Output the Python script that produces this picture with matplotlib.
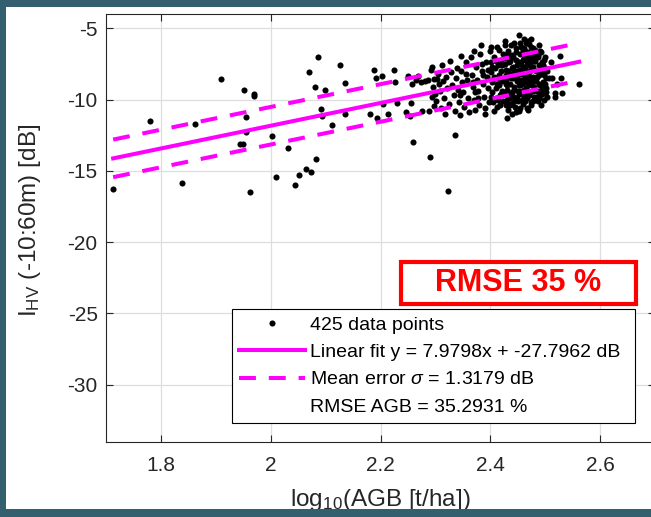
import numpy as np
import matplotlib
matplotlib.use("Agg")
from matplotlib import pyplot as plt
from matplotlib.patches import Rectangle

plt.rcParams['font.family'] = ['Liberation Sans', 'DejaVu Sans']
plt.rcParams['mathtext.fontset'] = 'custom'
plt.rcParams['mathtext.rm'] = 'Liberation Sans'
plt.rcParams['mathtext.it'] = 'Liberation Sans:italic'
plt.rcParams['axes.unicode_minus'] = False

# scattered points (log10 AGB, I_HV dB)
sparse_x = [1.713, 1.780, 1.838, 1.862, 1.909, 1.944, 1.950, 1.952, 1.955, 1.955,
            1.962, 1.970, 1.970, 2.002, 2.009, 2.031, 2.044, 2.051, 2.065, 2.073,
            2.069, 2.080, 2.083, 2.086, 2.092, 2.093, 2.098, 2.111, 2.127, 2.136,
            2.136, 2.181, 2.189, 2.191, 2.194, 2.203, 2.204, 2.213, 2.224, 2.227,
            2.230, 2.247, 2.250, 2.253, 2.256, 2.258, 2.260, 2.264, 2.268, 2.274,
            2.276, 2.281, 2.286, 2.288, 2.291, 2.293, 2.294, 2.298, 2.298, 2.303,
            2.323, 2.335, 2.347, 2.371, 2.383, 2.402, 2.427, 2.430, 2.453, 2.462,
            2.474, 2.489, 2.455, 2.507, 2.513, 2.529, 2.527, 2.510, 2.522, 2.518,
            2.531, 2.518, 2.562, 2.489, 2.486, 2.492]
sparse_y = [-16.29, -11.50, -15.87, -11.69, -8.56, -13.14, -13.14, -9.35, -11.24, -12.27,
            -16.50, -9.61, -9.75, -12.53, -15.41, -13.40, -15.99, -15.31, -14.85, -15.06,
            -8.05, -9.12, -14.15, -7.02, -10.64, -11.15, -9.35, -11.81, -7.60, -8.82,
            -10.99, -11.01, -7.91, -8.47, -11.31, -8.37, -10.31, -10.99, -7.91, -8.79,
            -10.26, -10.87, -8.37, -11.17, -10.26, -8.93, -13.00, -8.63, -8.33, -8.75,
            -10.82, -8.68, -8.63, -10.80, -14.05, -7.70, -9.84, -8.58, -10.45, -8.56,
            -16.39, -12.51, -6.95, -6.59, -6.17, -6.29, -5.89, -11.27, -5.45, -5.75,
            -5.75, -6.17, -10.57, -8.47, -8.47, -8.47, -6.92, -7.39, -8.93, -9.52,
            -9.51, -9.80, -8.89, -9.49, -9.80, -9.45]

# dense cluster, read column by column
cluster_x = [2.292, 2.296, 2.299, 2.301, 2.304, 2.306, 2.308, 2.310, 2.312, 2.314,
             2.316, 2.318, 2.320, 2.322, 2.324,
             2.327, 2.329, 2.331, 2.333, 2.335, 2.337, 2.339, 2.341, 2.343, 2.345,
             2.347, 2.349, 2.351, 2.353, 2.355, 2.357, 2.359, 2.361, 2.345, 2.356,
             2.364, 2.366, 2.368, 2.370, 2.372, 2.374, 2.376, 2.378, 2.380, 2.382,
             2.384, 2.386, 2.388, 2.390, 2.392, 2.394, 2.396, 2.397, 2.369, 2.377,
             2.385, 2.391, 2.373, 2.387, 2.395,
             2.400, 2.401, 2.402, 2.403, 2.404, 2.405, 2.406, 2.407, 2.408, 2.409,
             2.410, 2.411, 2.412, 2.413, 2.414, 2.415, 2.416, 2.417, 2.418, 2.419,
             2.420, 2.421, 2.422, 2.423, 2.424, 2.402, 2.406, 2.410, 2.414, 2.418,
             2.422, 2.404, 2.412, 2.420, 2.416,
             2.426, 2.427, 2.428, 2.429, 2.430, 2.431, 2.432, 2.433, 2.434, 2.435,
             2.436, 2.437, 2.438, 2.439, 2.440, 2.441, 2.442, 2.443, 2.444, 2.445,
             2.446, 2.447, 2.448, 2.449, 2.450, 2.451, 2.452, 2.427, 2.429, 2.431,
             2.433, 2.435, 2.437, 2.439, 2.441, 2.443, 2.445, 2.447, 2.449, 2.451,
             2.453, 2.428, 2.432, 2.436, 2.440, 2.444, 2.448, 2.452, 2.430, 2.438,
             2.446, 2.434, 2.442, 2.450, 2.426, 2.437, 2.444, 2.452, 2.429, 2.441,
             2.454, 2.455, 2.456, 2.457, 2.458, 2.459, 2.460, 2.461, 2.462, 2.463,
             2.464, 2.465, 2.466, 2.467, 2.468, 2.469, 2.470, 2.471, 2.472, 2.473,
             2.474, 2.475, 2.476, 2.477, 2.478, 2.479, 2.480, 2.455, 2.457, 2.459,
             2.461, 2.463, 2.465, 2.467, 2.469, 2.471, 2.473, 2.475, 2.477, 2.479,
             2.454, 2.456, 2.458, 2.460, 2.462, 2.464, 2.466, 2.468, 2.470, 2.472,
             2.474, 2.476, 2.478, 2.480, 2.457, 2.463, 2.469, 2.475, 2.459, 2.465,
             2.471, 2.477, 2.462, 2.468, 2.474, 2.466, 2.470, 2.458, 2.476, 2.464,
             2.481, 2.482, 2.483, 2.484, 2.485, 2.486, 2.487, 2.488, 2.489, 2.490,
             2.491, 2.492, 2.493, 2.494, 2.495, 2.496, 2.497, 2.498, 2.499, 2.500,
             2.501, 2.502, 2.503, 2.483, 2.486, 2.489, 2.492, 2.495, 2.498, 2.501,
             2.485, 2.488, 2.491, 2.494, 2.497, 2.500, 2.482, 2.490, 2.496, 2.503]
cluster_y = [-7.9, -9.1, -9.6, -10.1, -8.2, -8.9, -9.4, -10.6, -7.6, -8.7,
             -9.9, -11.0, -8.4, -9.2, -10.3,
             -7.3, -8.1, -9.0, -9.7, -10.8, -8.5, -7.8, -9.3, -10.2, -11.1,
             -8.0, -8.8, -9.5, -10.5, -7.4, -8.6, -9.9, -10.9, -9.7, -8.2,
             -7.0, -8.3, -9.1, -10.0, -10.7, -7.7, -8.6, -9.4, -10.4, -6.8,
             -8.0, -8.9, -9.8, -11.0, -7.4, -8.4, -9.2, -10.2, -8.8, -9.9,
             -7.5, -10.6, -9.5, -8.3, -7.9,
             -6.6, -7.4, -8.1, -8.8, -9.5, -10.2, -10.8, -7.0, -7.8, -8.5,
             -9.2, -9.9, -10.5, -6.3, -7.6, -8.3, -9.0, -9.7, -10.4, -7.2,
             -8.0, -8.7, -9.4, -10.1, -6.8, -9.8, -8.4, -7.3, -10.0, -8.6,
             -7.6, -7.7, -8.9, -9.6, -6.5,
             -6.2, -7.1, -7.9, -8.6, -9.3, -10.0, -10.7, -6.6, -7.4, -8.2,
             -8.9, -9.6, -10.3, -11.0, -6.9, -7.7, -8.4, -9.1, -9.8, -10.5,
             -6.4, -7.2, -8.0, -8.7, -9.4, -10.1, -10.8, -7.5, -8.3, -9.0,
             -9.7, -10.4, -7.0, -7.8, -8.5, -9.3, -10.0, -6.7, -7.6, -8.3,
             -9.0, -8.9, -8.0, -7.3, -9.5, -8.1, -9.9, -7.4, -6.8, -6.2,
             -10.9, -9.9, -7.0, -8.6, -9.6, -8.5, -6.0, -9.6, -10.4, -10.2,
             -6.0, -6.8, -7.5, -8.2, -8.9, -9.6, -10.3, -6.4, -7.1, -7.8,
             -8.5, -9.2, -9.9, -10.6, -5.9, -6.7, -7.4, -8.1, -8.8, -9.5,
             -10.2, -6.3, -7.0, -7.7, -8.4, -9.1, -9.8, -7.9, -8.6, -7.2,
             -9.3, -6.6, -8.0, -7.3, -9.0, -6.1, -7.6, -8.7, -9.4, -6.9,
             -9.0, -6.3, -10.0, -7.7, -8.8, -6.9, -7.6, -8.3, -9.7, -6.8,
             -7.9, -9.0, -10.1, -7.3, -9.4, -10.1, -10.7, -10.4, -6.6, -6.0,
             -7.1, -6.4, -9.8, -8.7, -8.5, -8.4, -8.6, -8.0, -7.8, -9.6,
             -6.5, -7.3, -8.0, -8.7, -9.4, -10.1, -6.9, -7.6, -8.3, -9.0,
             -9.7, -10.4, -6.7, -7.4, -8.1, -8.8, -9.5, -10.0, -7.0, -7.8,
             -8.5, -9.2, -9.8, -9.8, -7.0, -9.9, -7.9, -9.6, -7.2, -9.5,
             -8.4, -8.9, -8.0, -9.2, -8.3, -8.9, -8.6, -6.6, -7.6, -8.0]

n_points = 425
fit_slope = 7.9798
fit_offset = -27.7962
sigma = 1.3179
rmse_agb = 35.2931

x = np.array(sparse_x + cluster_x)
y = np.array(sparse_y + cluster_y)

fig = plt.figure(figsize=(6.51, 5.17), dpi=100)
ax = fig.add_axes([106/651, 1 - 441.7/517, 549/651, 427.7/517])

magenta = '#ff00ff'
ax.plot(x, y, 'o', color='black', markersize=4.4, markeredgewidth=0, zorder=3,
        label='%d data points' % n_points)

xf = np.array([x.min(), x.max()])
yf = fit_slope * xf + fit_offset
ax.plot(xf, yf, '-', color=magenta, linewidth=2.9, zorder=4,
        label='Linear fit y = %.4fx + %.4f dB' % (fit_slope, fit_offset))
ax.plot(xf, yf + sigma, color=magenta, linewidth=2.9, dashes=(4.2, 3.2),
        dash_capstyle='butt', zorder=4, label=r'Mean error $\sigma$ = %.4f dB' % sigma)
ax.plot(xf, yf - sigma, color=magenta, linewidth=2.9, dashes=(4.2, 3.2),
        dash_capstyle='butt', zorder=4)
ax.plot([], [], linestyle='none', label='RMSE AGB = %.4f %%' % rmse_agb)

ax.set_xlim(1.7, 2.7)
ax.set_ylim(-34, -4)
ax.set_xticks([1.8, 2, 2.2, 2.4, 2.6])
ax.set_xticklabels(['1.8', '2', '2.2', '2.4', '2.6'])
ax.set_yticks([-30, -25, -20, -15, -10, -5])
ax.grid(True, color='#dedede', linewidth=0.9)
ax.set_axisbelow(True)
ax.tick_params(direction='in', length=5, width=0.8, top=True, right=True,
               labelsize=15, colors='#262626')
ax.tick_params(axis='x', pad=10)
ax.tick_params(axis='y', pad=6)
for s in ax.spines.values():
    s.set_color('#262626')
    s.set_linewidth(0.8)

ax.set_xlabel(r'log$_{10}$(AGB [t/ha])', fontsize=17.5, color='#262626')
ax.set_ylabel(r'I$_{\mathrm{HV}}$ (-10:60m) [dB]', fontsize=17.5, color='#262626')
ax.xaxis.set_label_coords(0.5, -0.106)
ax.yaxis.set_label_coords(-0.114, 0.518)

leg = ax.legend(loc='upper left',
                bbox_to_anchor=(231.7/651, 1 - 424/517, 403/651, 114.7/517),
                bbox_transform=fig.transFigure, mode='expand', borderaxespad=0,
                fontsize=14, handlelength=3.4, handletextpad=0.3, labelspacing=0.5,
                frameon=True, fancybox=False, framealpha=1, edgecolor='black',
                borderpad=0.35)
leg.get_frame().set_linewidth(0.8)

# red RMSE box
fig.patches.append(Rectangle((401/651, 1 - 304/517), 235/651, 42/517,
                             transform=fig.transFigure, facecolor='white',
                             edgecolor='#ff0000', linewidth=3, zorder=5))
fig.text(518.5/651, 1 - 283/517, 'RMSE 35 %', color='#ff0000', fontsize=22,
         fontweight='bold', ha='center', va='center', zorder=6)

# teal frame round the slide
teal = '#345f6e'
fig.patches.append(Rectangle((0, 1 - 7/517), 1, 7/517, transform=fig.transFigure,
                             facecolor=teal, edgecolor='none', zorder=10))
fig.patches.append(Rectangle((0, 0), 6/651, 1, transform=fig.transFigure,
                             facecolor=teal, edgecolor='none', zorder=10))
fig.patches.append(Rectangle((0, 0), 1, 8/517, transform=fig.transFigure,
                             facecolor=teal, edgecolor='none', zorder=10))

fig.savefig('out.png', dpi=100)
